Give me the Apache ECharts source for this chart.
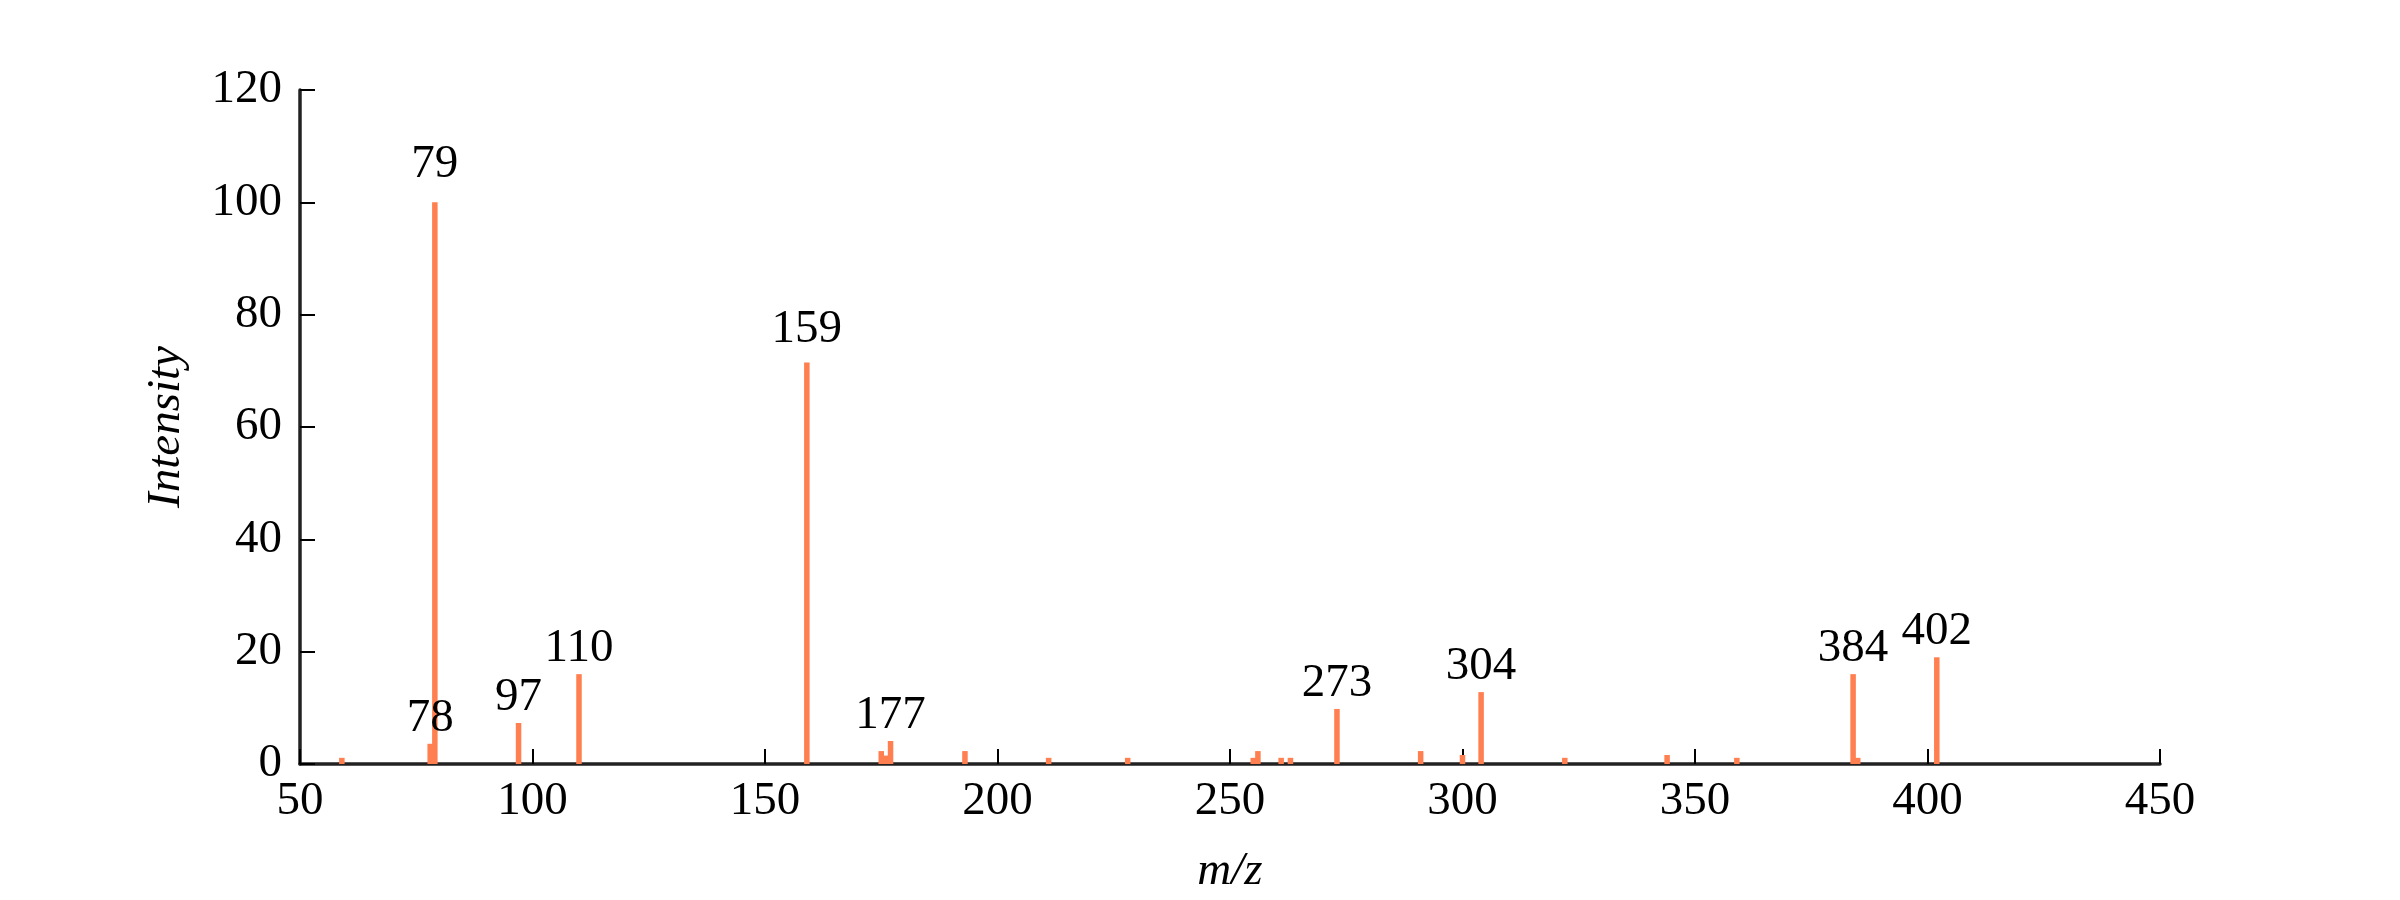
<!DOCTYPE html>
<html>
<head>
<meta charset="utf-8">
<script src="https://cdn.jsdelivr.net/npm/echarts@6/dist/echarts.min.js"></script>
<style>
html,body{margin:0;padding:0;background:#fff;}
#chart{width:2400px;height:900px;}
</style>
</head>
<body>
<div id="chart"></div>
<script>
// m/z values and intensities
const mz =        [59, 78, 79, 97, 110, 159, 175, 176, 177, 193, 211, 228, 255, 256, 261, 263, 273, 291, 300, 304, 322, 344, 359, 384, 385, 402];
const intensity = [1.1, 3.6, 100, 7.3, 16.0, 71.5, 2.3, 1.5, 4.1, 2.3, 1.1, 1.1, 1.1, 2.3, 1.1, 1.1, 9.8, 2.3, 1.6, 12.8, 1.1, 1.6, 1.1, 16.0, 1.1, 19.0];
const labeledPeaks = [78, 79, 97, 110, 159, 177, 273, 304, 384, 402];
const xTicks = [50, 100, 150, 200, 250, 300, 350, 400, 450];
const yTicks = [0, 20, 40, 60, 80, 100, 120];

const FONT = 'Liberation Serif';
const FS = 47;
const labelDistance = { 79: 14, 159: 9 };
const data = mz.map((m, i) => {
  const item = { value: [m, intensity[i]] };
  if (labeledPeaks.includes(m)) {
    item.label = { show: true, distance: labelDistance[m] !== undefined ? labelDistance[m] : 2 };
  }
  return item;
});

const chart = echarts.init(document.getElementById('chart'), null, { renderer: 'canvas' });
chart.setOption({
  animation: false,
  backgroundColor: '#ffffff',
  grid: { left: 300, right: 240, top: 90, bottom: 136, containLabel: false },
  xAxis: {
    type: 'value',
    min: xTicks[0], max: xTicks[xTicks.length - 1], interval: 50,
    name: 'm/z', nameLocation: 'middle', nameGap: 84,
    nameTextStyle: { fontFamily: FONT, fontStyle: 'italic', fontSize: FS, color: '#000' },
    axisLine: { show: true, lineStyle: { color: '#222', width: 3.5 } },
    axisTick: { show: true, inside: true, length: 15, lineStyle: { color: '#000', width: 2 } },
    axisLabel: { fontFamily: FONT, fontSize: FS, color: '#000', margin: 14 },
    splitLine: { show: false }
  },
  yAxis: {
    type: 'value',
    min: yTicks[0], max: yTicks[yTicks.length - 1], interval: 20,
    name: 'Intensity', nameLocation: 'middle', nameGap: 110, nameRotate: 90,
    nameTextStyle: { fontFamily: FONT, fontStyle: 'italic', fontSize: FS, color: '#000' },
    axisLine: { show: true, onZero: false, lineStyle: { color: '#222', width: 3.5 } },
    axisTick: { show: true, inside: true, length: 15, lineStyle: { color: '#000', width: 2 } },
    axisLabel: { fontFamily: FONT, fontSize: FS, color: '#000', margin: 18 },
    splitLine: { show: false }
  },
  series: [{
    type: 'bar',
    data: data,
    barWidth: 5.5,
    itemStyle: { color: '#ff7f50' },
    label: {
      show: false, position: 'top',
      fontFamily: FONT, fontSize: FS, color: '#000',
      formatter: p => String(p.value[0])
    }
  }]
});
</script>
</body>
</html>
